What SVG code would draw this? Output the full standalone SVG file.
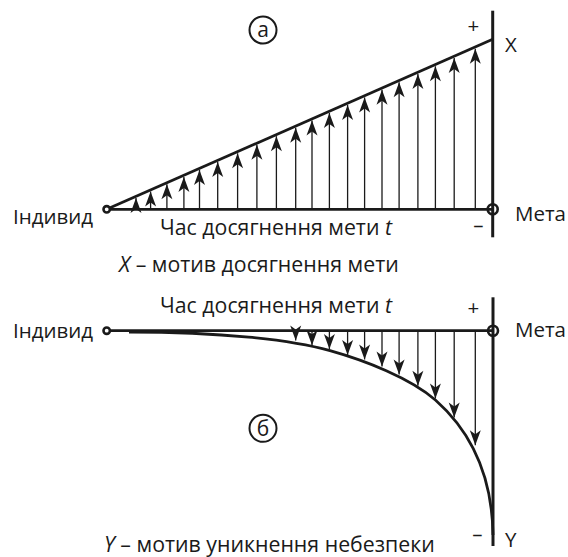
<svg xmlns="http://www.w3.org/2000/svg" width="568" height="557" viewBox="0 0 568 557">
<style>
.t{font-family:"Open Sans","Noto Sans",sans-serif;font-size:20.5px;fill:#1a1a1a}
.w{font-family:"Open Sans","Noto Sans",sans-serif;font-size:21.3px;fill:#1a1a1a}
.s{font-family:"Open Sans","Noto Sans",sans-serif;font-size:21px;fill:#1a1a1a}
.i{font-style:italic}
.ax{stroke:#1a1a1a;stroke-width:3;fill:none}
.ln{stroke:#1a1a1a;stroke-width:2.8;fill:none}
.ar{stroke:#1a1a1a;stroke-width:1.3;fill:none;marker-end:url(#ah)}
.ring{stroke:#1a1a1a;stroke-width:2.6;fill:none}
.lab{stroke:#1a1a1a;stroke-width:2;fill:none}
.dot{stroke:#1a1a1a;stroke-width:2.6;fill:#fff}
</style>
<defs>
<marker id="ah" markerWidth="18" markerHeight="14" refX="16" refY="7" orient="auto" markerUnits="userSpaceOnUse" viewBox="0 0 18 14">
<path d="M16,7 L1,1.5 L5,7 L1,12.5 Z" fill="#1a1a1a"/>
</marker>
</defs>
<rect width="568" height="557" fill="#fff"/>

<g id="panel-a">
<line class="ax" x1="492.7" y1="10.7" x2="492.7" y2="237.3"/>
<line class="ln" x1="106.7" y1="209.3" x2="492.7" y2="209.3"/>
<line class="ln" x1="106.7" y1="209.3" x2="492.7" y2="39.3"/>
</g>

<g id="connectors-a">
<line class="ar" x1="136" y1="209.3" x2="136" y2="197.9"/>
<line class="ar" x1="150.6" y1="209.3" x2="150.6" y2="191.5"/>
<line class="ar" x1="166.9" y1="209.3" x2="166.9" y2="184.3"/>
<line class="ar" x1="183.9" y1="209.3" x2="183.9" y2="176.9"/>
<line class="ar" x1="199.5" y1="209.3" x2="199.5" y2="170"/>
<line class="ar" x1="217.7" y1="209.3" x2="217.7" y2="162"/>
<line class="ar" x1="237.6" y1="209.3" x2="237.6" y2="153.3"/>
<line class="ar" x1="256.9" y1="209.3" x2="256.9" y2="144.8"/>
<line class="ar" x1="276.4" y1="209.3" x2="276.4" y2="136.2"/>
<line class="ar" x1="295.7" y1="209.3" x2="295.7" y2="127.7"/>
<line class="ar" x1="312" y1="209.3" x2="312" y2="120.6"/>
<line class="ar" x1="329.4" y1="209.3" x2="329.4" y2="112.9"/>
<line class="ar" x1="347.6" y1="209.3" x2="347.6" y2="104.9"/>
<line class="ar" x1="364.6" y1="209.3" x2="364.6" y2="97.4"/>
<line class="ar" x1="382" y1="209.3" x2="382" y2="89.8"/>
<line class="ar" x1="399.1" y1="209.3" x2="399.1" y2="82.3"/>
<line class="ar" x1="417.9" y1="209.3" x2="417.9" y2="74"/>
<line class="ar" x1="435.4" y1="209.3" x2="435.4" y2="66.3"/>
<line class="ar" x1="454.2" y1="209.3" x2="454.2" y2="58"/>
<line class="ar" x1="475.3" y1="209.3" x2="475.3" y2="48.8"/>
</g>

<g id="node-individ-a">
<circle class="dot" cx="106.7" cy="209.3" r="3.2"/>
<text class="t" x="13" y="224">Індивид</text>
</g>
<g id="node-meta-a">
<circle class="ring" cx="492.7" cy="209.3" r="5"/>
<text class="t" x="515" y="221">Мета</text>
</g>
<g id="labels-a">
<text class="w" x="160" y="235">Час досягнення мети <tspan class="i">t</tspan></text>
<text class="t" x="473.3" y="33" text-anchor="middle">+</text>
<text class="t" x="478.3" y="232" text-anchor="middle">–</text>
<text class="t" x="505" y="52">X</text>
<text class="w" x="119" y="272"><tspan class="i">X</tspan> –  мотив досягнення мети</text>
<circle class="lab" cx="263" cy="30" r="13.5"/>
<text class="s" x="263" y="37" text-anchor="middle">а</text>
</g>

<g id="panel-b">
<line class="ax" x1="493" y1="297.3" x2="493" y2="546"/>
<line class="ln" x1="106.7" y1="330.7" x2="493" y2="330.7"/>
<path class="ln" d="M129,332 C220,332 290,339.5 330,350.7 C365,360.5 410,378 435.4,400 C458,420 492,460 493,535"/>
</g>

<g id="connectors-b">
<line class="ar" x1="295.7" y1="330.7" x2="295.7" y2="340.5"/>
<line class="ar" x1="312" y1="330.7" x2="312" y2="345.2"/>
<line class="ar" x1="329.4" y1="330.7" x2="329.4" y2="349"/>
<line class="ar" x1="347.6" y1="330.7" x2="347.6" y2="355"/>
<line class="ar" x1="364.6" y1="330.7" x2="364.6" y2="359.5"/>
<line class="ar" x1="382" y1="330.7" x2="382" y2="366.5"/>
<line class="ar" x1="399.1" y1="330.7" x2="399.1" y2="374.5"/>
<line class="ar" x1="417.9" y1="330.7" x2="417.9" y2="385.7"/>
<line class="ar" x1="435.4" y1="330.7" x2="435.4" y2="398.5"/>
<line class="ar" x1="454.2" y1="330.7" x2="454.2" y2="417.5"/>
<line class="ar" x1="475.3" y1="330.7" x2="475.3" y2="445.2"/>
</g>

<g id="node-individ-b">
<circle class="dot" cx="106.7" cy="330.7" r="3.2"/>
<text class="t" x="13" y="338">Індивид</text>
</g>
<g id="node-meta-b">
<circle class="ring" cx="493" cy="330.7" r="5"/>
<text class="t" x="515" y="337">Мета</text>
</g>
<g id="labels-b">
<text class="w" x="160" y="313">Час досягнення мети <tspan class="i">t</tspan></text>
<text class="t" x="473.3" y="315" text-anchor="middle">+</text>
<text class="t" x="477.3" y="541" text-anchor="middle">–</text>
<text class="t" x="505" y="547">Y</text>
<text class="w" x="104" y="552"><tspan class="i">Y</tspan> –  мотив уникнення небезпеки</text>
<circle class="lab" cx="263" cy="428.3" r="13.5"/>
<text class="s" x="263" y="435.5" text-anchor="middle">б</text>
</g>
</svg>
